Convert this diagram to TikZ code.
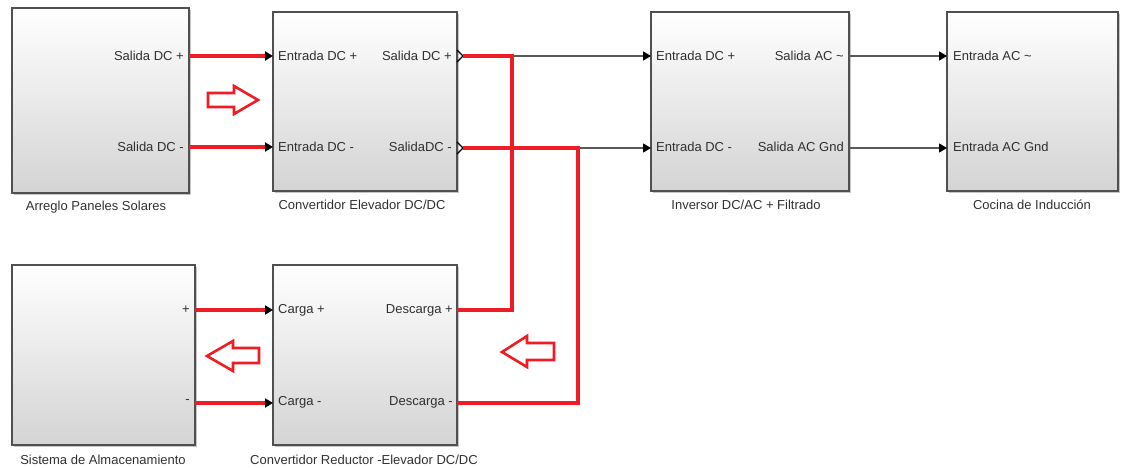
\documentclass[tikz,border=0pt]{standalone}
\usepackage{fontspec}
\setmainfont{Liberation Sans}
\usetikzlibrary{arrows.meta,shadows,calc}
\definecolor{wred}{HTML}{EE1C25}
\definecolor{bord}{HTML}{505050}
\definecolor{txt}{HTML}{303030}
\begin{document}
\begin{tikzpicture}[x=1pt,y=-1pt,
  block/.style={draw=bord, line width=1.4pt, top color=white, bottom color=black!17,
    inner sep=0pt, outer sep=0pt, anchor=north west,
    drop shadow={shadow xshift=1.6pt, shadow yshift=-1.6pt, fill=black!45, opacity=0.5}},
  plab/.style={text=txt, font=\fontsize{13}{15}\selectfont, inner sep=0pt},
  captext/.style={text=txt, font=\fontsize{13}{15}\selectfont, inner sep=0pt},
  wire/.style={draw=black!65, line width=1.3pt, -{Triangle[length=8pt,width=9pt,color=black]}},
  redw/.style={draw=wred, line width=4pt},
  redarr/.style={redw, -{Triangle[length=8pt,width=9pt,color=black]}},
  hollow/.style={draw=wred, line width=2.6pt, line join=miter},
  chev/.style={draw=black, line width=1.2pt}]
\useasboundingbox (0,0) rectangle (1122,468);

% blocks
\node[block, minimum width=177pt, minimum height=185pt] (b1) at (12,8) {};
\node[block, minimum width=184pt, minimum height=179pt] (b2) at (273,12) {};
\node[block, minimum width=198pt, minimum height=179pt] (b3) at (651,12) {};
\node[block, minimum width=171pt, minimum height=179pt] (b4) at (947,12) {};
\node[block, minimum width=183pt, minimum height=180pt] (b5) at (12,265) {};
\node[block, minimum width=184pt, minimum height=180pt] (b6) at (273,265) {};

% port labels
\node[plab, anchor=east] (l1a) at (184,56) {Salida DC +};
\node[plab, anchor=east] (l1b) at (184,147) {Salida DC -};
\node[plab, anchor=west] (l2a) at (278,56) {Entrada DC +};
\node[plab, anchor=west] (l2b) at (278,147) {Entrada DC -};
\node[plab, anchor=east] (l2c) at (452,56) {Salida DC +};
\node[plab, anchor=east] (l2d) at (452,147) {SalidaDC -};
\node[plab, anchor=west] (l3a) at (656,56) {Entrada DC +};
\node[plab, anchor=west] (l3b) at (656,147) {Entrada DC -};
\node[plab, anchor=east] (l3c) at (844,56) {Salida AC \textasciitilde};
\node[plab, anchor=east] (l3d) at (844,147) {Salida AC Gnd};
\node[plab, anchor=west] (l4a) at (953,56) {Entrada AC \textasciitilde};
\node[plab, anchor=west] (l4b) at (953,147) {Entrada AC Gnd};
\node[plab, anchor=east] (l5a) at (190,310) {+};
\node[plab, anchor=east] (l5b) at (190,402) {-};
\node[plab, anchor=west] (l6a) at (278,310) {Carga +};
\node[plab, anchor=west] (l6b) at (278,402) {Carga -};
\node[plab, anchor=east] (l6c) at (453,310) {Descarga +};
\node[plab, anchor=east] (l6d) at (453,402) {Descarga -};

% captions
\node[captext] (c1) at (96,207) {Arreglo Paneles Solares};
\node[captext] (c2) at (362,205) {Convertidor Elevador DC/DC};
\node[captext] (c3) at (746,205) {Inversor DC/AC + Filtrado};
\node[captext] (c4) at (1032,205) {Cocina de Inducción};
\node[captext] (c5) at (103,460) {Sistema de Almacenamiento};
\node[captext] (c6) at (364,460) {Convertidor Reductor -Elevador DC/DC};

% junction points
\coordinate (j1) at (512,56);
\coordinate (j2) at (578,148);
\coordinate (o1) at (463,56);
\coordinate (o2) at (463,148);

% output chevrons
\draw[chev] (457,50) -- (o1) -- (457,62);
\draw[chev] (457,142) -- (o2) -- (457,154);

% black wires
\draw[wire] (j1) -- (b3.west |- j1);
\draw[wire] (j2) -- (b3.west |- j2);
\draw[wire] (b3.east |- 0,56) -- (b4.west |- 0,56);
\draw[wire] (b3.east |- 0,148) -- (b4.west |- 0,148);

% red wires
\draw[redarr] (b1.east |- 0,56) -- (b2.west |- 0,56);
\draw[redarr] (b1.east |- 0,147) -- (b2.west |- 0,147);
\draw[redw] (o1) -- (j1) |- (b6.east |- 0,310);
\draw[redw] (o2) -- (j2) |- (b6.east |- 0,403);
\draw[redarr] (b5.east |- 0,310) -- (b6.west |- 0,310);
\draw[redarr] (b5.east |- 0,403) -- (b6.west |- 0,403);

% hollow direction arrows
\draw[hollow] (258,100) -- (234,86) -- (234,93) -- (208,93) -- (208,107) -- (234,107) -- (234,114) -- cycle;
\draw[hollow] (207,356) -- (233,341) -- (233,348) -- (259,348) -- (259,363) -- (233,363) -- (233,371) -- cycle;
\draw[hollow] (502,352) -- (527,336) -- (527,343) -- (554,343) -- (554,360) -- (527,360) -- (527,367) -- cycle;
\end{tikzpicture}
\end{document}
